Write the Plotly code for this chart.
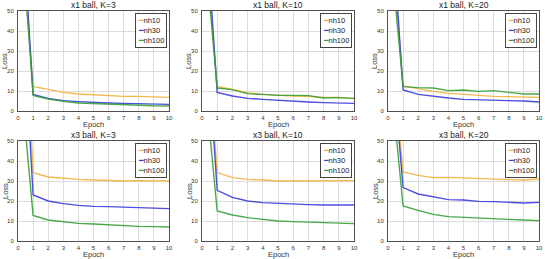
import plotly.graph_objects as go

epochs = [0, 1, 2, 3, 4, 5, 6, 7, 8, 9, 10]
series_names = ["nh10", "nh30", "nh100"]
titles = ["x1 ball, K=3", "x1 ball, K=10", "x1 ball, K=20",
          "x3 ball, K=3", "x3 ball, K=10", "x3 ball, K=20"]

x1_k3_nh10 = [106, 12.3, 10.8, 9.3, 8.5, 8.0, 7.7, 7.3, 7.3, 7.0, 6.8]
x1_k3_nh30 = [131, 8.3, 6.3, 5.2, 4.7, 4.2, 4.0, 3.8, 3.6, 3.4, 3.3]
x1_k3_nh100 = [113, 7.8, 6.0, 4.8, 4.0, 3.7, 3.3, 3.0, 2.8, 2.6, 2.5]

x1_k10_nh10 = [106, 12.3, 10.8, 9.0, 8.3, 7.8, 7.5, 7.3, 6.8, 6.8, 6.3]
x1_k10_nh30 = [122, 9.3, 7.5, 6.3, 5.8, 5.3, 4.8, 4.5, 4.2, 4.0, 3.8]
x1_k10_nh100 = [97, 11.5, 10.7, 8.7, 8.3, 7.8, 7.8, 7.7, 6.5, 6.7, 6.3]

x1_k20_nh10 = [106, 12.5, 11.2, 9.8, 8.8, 8.2, 7.7, 7.3, 7.2, 7.0, 6.8]
x1_k20_nh30 = [123, 10.5, 8.3, 7.3, 6.5, 5.8, 5.5, 5.2, 5.2, 5.0, 4.5]
x1_k20_nh100 = [93, 12.2, 11.7, 11.5, 10.2, 10.5, 9.8, 10.2, 9.3, 8.5, 8.5]

x3_k3_nh10 = [179, 34.2, 32.0, 31.3, 30.8, 30.5, 30.3, 30.0, 30.2, 30.2, 30.0]
x3_k3_nh30 = [158, 23.0, 20.0, 18.7, 17.8, 17.3, 17.2, 17.0, 16.7, 16.5, 16.2]
x3_k3_nh100 = [96, 12.8, 10.5, 9.5, 8.8, 8.5, 8.0, 7.7, 7.3, 7.2, 7.0]

x3_k10_nh10 = [133, 34.2, 31.7, 30.8, 30.5, 30.0, 30.0, 30.0, 30.0, 30.0, 30.2]
x3_k10_nh30 = [138, 25.3, 21.8, 20.0, 19.2, 18.8, 18.5, 18.2, 18.0, 18.0, 18.0]
x3_k10_nh100 = [95, 15.0, 13.0, 11.7, 10.8, 10.0, 9.7, 9.5, 9.0, 8.8, 8.7]

x3_k20_nh10 = [116, 34.5, 32.8, 31.7, 31.8, 31.5, 31.0, 30.8, 30.7, 30.5, 31.0]
x3_k20_nh30 = [116, 26.7, 23.5, 22.0, 20.7, 20.5, 19.8, 19.7, 19.3, 19.0, 19.3]
x3_k20_nh100 = [95, 17.5, 15.3, 13.3, 12.2, 11.8, 11.3, 11.2, 10.8, 10.5, 10.2]

panels = [
    [x1_k3_nh10, x1_k3_nh30, x1_k3_nh100],
    [x1_k10_nh10, x1_k10_nh30, x1_k10_nh100],
    [x1_k20_nh10, x1_k20_nh30, x1_k20_nh100],
    [x3_k3_nh10, x3_k3_nh30, x3_k3_nh100],
    [x3_k10_nh10, x3_k10_nh30, x3_k10_nh100],
    [x3_k20_nh10, x3_k20_nh30, x3_k20_nh100],
]

x_ticks = [0, 1, 2, 3, 4, 5, 6, 7, 8, 9, 10]
y_ticks = [0, 10, 20, 30, 40, 50]

colors = ["#f2b13c", "#3a3ade", "#35a035"]

W, H = 545, 259
xpix = [(18, 169), (202, 354), (388, 539)]
ypix = [(11, 111), (141, 241)]

fig = go.Figure()
FONT = "Liberation Sans, Arial, sans-serif"

for i, data in enumerate(panels):
    r, c = divmod(i, 3)
    ax = "" if i == 0 else str(i + 1)
    x0, x1 = xpix[c]
    y0, y1 = ypix[r]
    xd = [x0 / W, x1 / W]
    yd = [1 - y1 / H, 1 - y0 / H]
    for s, name in enumerate(series_names):
        fig.add_trace(go.Scatter(
            x=epochs, y=data[s], mode="lines", name=name,
            line=dict(color=colors[s], width=1.4),
            opacity=0.9, showlegend=False, hoverinfo="skip",
            xaxis="x" + ax, yaxis="y" + ax))
    common = dict(showgrid=True, gridcolor="#dcdcdc", gridwidth=1, showline=True,
                  linecolor="#505050", linewidth=1, mirror=True, zeroline=False,
                  ticks="", automargin=False,
                  tickfont=dict(size=6, color="#333", family=FONT))
    fig.update_layout({
        "xaxis" + ax: dict(domain=xd, range=[0, 10], tickvals=x_ticks,
                           anchor="y" + ax, ticklabelstandoff=1, **common),
        "yaxis" + ax: dict(domain=yd, range=[0, 50], tickvals=y_ticks,
                           anchor="x" + ax, ticklabelstandoff=2, **common),
    })
    # titles
    fig.add_annotation(text=titles[i], x=(xd[0] + xd[1]) / 2, y=yd[1], xref="paper",
                       yref="paper", xanchor="center", yanchor="bottom",
                       showarrow=False, yshift=-1,
                       font=dict(size=8.5, color="#222", family=FONT))
    fig.add_annotation(text="Epoch", x=(xd[0] + xd[1]) / 2, y=yd[0], xref="paper",
                       yref="paper", xanchor="center", yanchor="top",
                       showarrow=False, yshift=-7,
                       font=dict(size=7.5, color="#333", family=FONT))
    fig.add_annotation(text="Loss", x=xd[0], y=(yd[0] + yd[1]) / 2, xref="paper",
                       yref="paper", xanchor="center", yanchor="middle",
                       showarrow=False, xshift=-13, textangle=-90,
                       font=dict(size=7.5, color="#333", family=FONT))
    # legend box
    leg = "<br>".join(
        f"<span style='color:{colors[s]};font-family:DejaVu Sans'>\u2501</span>{series_names[s]}"
        for s in range(3))
    fig.add_annotation(text=leg, x=xd[1], y=yd[1], xref="paper", yref="paper",
                       xanchor="right", yanchor="top", xshift=-2, yshift=-2,
                       showarrow=False, align="left",
                       bgcolor="white", bordercolor="#444", borderwidth=1, borderpad=2,
                       font=dict(size=7.5, color="#222", family=FONT))

fig.update_layout(width=W, height=H, margin=dict(l=0, r=0, t=0, b=0),
                  plot_bgcolor="white", paper_bgcolor="white", showlegend=False,
                  hovermode=False)
fig.write_html("out.html", config={"displayModeBar": False, "staticPlot": True},
               post_script="document.body.style.margin='0';document.body.style.padding='0';document.body.style.overflow='hidden';")
